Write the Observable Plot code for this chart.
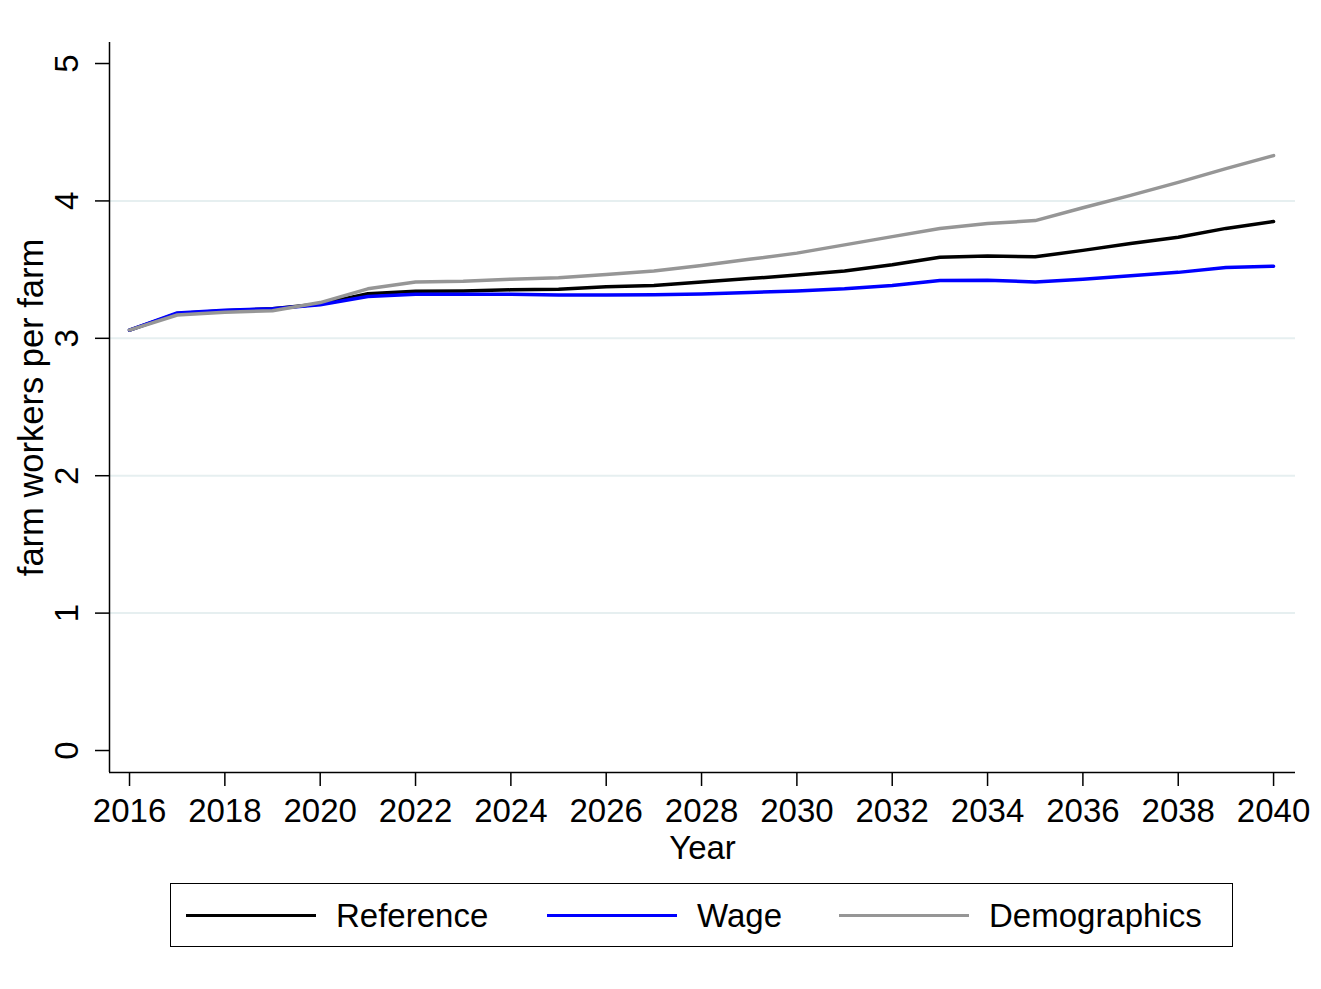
<!DOCTYPE html>
<html>
<head>
<meta charset="utf-8">
<script src="https://cdn.jsdelivr.net/npm/d3@7"></script>
<script src="https://cdn.jsdelivr.net/npm/@observablehq/plot@0.6"></script>
<style>
  body { margin: 0; background: #fff; font-family: "Liberation Sans", Arial, sans-serif; }
  #chart svg { display: block; }
  #legend {
    position: relative; box-sizing: border-box;
    margin-left: 170px; margin-top: 8px; width: 1063px; height: 64px;
    border: 1.5px solid #000; background: #fff;
  }
  .sw { position: absolute; top: 30px; width: 130px; height: 3px; }
  .lb { position: absolute; top: 14px; font-size: 33px; line-height: 36px; color: #000; }
</style>
</head>
<body>
<div id="chart"></div>
<div id="legend"></div>
<script>
const years = [2016,2017,2018,2019,2020,2021,2022,2023,2024,2025,2026,2027,2028,2029,2030,2031,2032,2033,2034,2035,2036,2037,2038,2039,2040];
const referenceVals = [3.06,3.18,3.20,3.215,3.25,3.325,3.343,3.345,3.353,3.358,3.375,3.385,3.41,3.435,3.46,3.49,3.535,3.59,3.60,3.593,3.64,3.69,3.735,3.80,3.85];
const wageVals = [3.06,3.185,3.205,3.215,3.245,3.305,3.32,3.32,3.32,3.315,3.315,3.317,3.322,3.333,3.345,3.36,3.385,3.42,3.423,3.41,3.43,3.455,3.48,3.515,3.525];
const demoVals = [3.06,3.17,3.19,3.20,3.26,3.36,3.41,3.415,3.43,3.44,3.465,3.49,3.53,3.575,3.62,3.68,3.74,3.80,3.835,3.857,3.95,4.04,4.135,4.235,4.33];
const seriesNames = ["Reference","Wage","Demographics"];
const seriesColors = ["#000000","#0000ff","#969696"];
const xTicks = [2016,2018,2020,2022,2024,2026,2028,2030,2032,2034,2036,2038,2040];
const yTicks = [0,1,2,3,4,5];
const gridTicks = [1,2,3,4];
const xDomain = [2015.58, 2040.46];
const yDomain = [-0.16, 5.153];
const xLabel = "Year";
const yLabel = "farm workers per farm";

const valueArrays = [referenceVals, wageVals, demoVals];
const rows = [];
seriesNames.forEach((s, i) => years.forEach((yr, j) => rows.push({year: yr, value: valueArrays[i][j], series: s})));

const font = "'Liberation Sans', Arial, sans-serif";
const plot = Plot.plot({
  width: 1321,
  height: 875,
  marginLeft: 109,
  marginRight: 26,
  marginTop: 42,
  marginBottom: 103,
  style: {fontFamily: font, background: "#fff", color: "#000"},
  x: {domain: xDomain},
  y: {domain: yDomain},
  color: {domain: seriesNames, range: seriesColors},
  marks: [
    Plot.gridY({ticks: gridTicks, stroke: "#e6eff0", strokeOpacity: 1, strokeWidth: 2}),
    Plot.ruleX([xDomain[0]], {stroke: "#000", strokeWidth: 1.5}),
    Plot.ruleY([yDomain[0]], {stroke: "#000", strokeWidth: 1.5}),
    Plot.axisY({ticks: yTicks, tickSize: 14, tickFormat: () => "", label: null, stroke: "#000", strokeWidth: 1.5}),
    Plot.text(yTicks, {y: d => d, text: d => String(d), frameAnchor: "left", textAnchor: "middle", lineAnchor: "middle", dx: -42, rotate: -90, fontSize: 33, fill: "#000"}),
    Plot.axisX({ticks: xTicks, tickSize: 14, tickPadding: 12, tickFormat: "d", fontSize: 33, label: null, stroke: "#000", strokeWidth: 1.5}),
    Plot.text([xLabel], {frameAnchor: "bottom", textAnchor: "middle", lineAnchor: "middle", dy: 76, fontSize: 33, fill: "#000"}),
    Plot.text([yLabel], {frameAnchor: "left", textAnchor: "middle", lineAnchor: "middle", dx: -78, rotate: -90, fontSize: 34.5, fill: "#000"}),
    Plot.line(rows, {x: "year", y: "value", z: "series", stroke: "series", strokeWidth: 3.5, strokeLinejoin: "round"})
  ]
});
document.getElementById("chart").appendChild(plot);

const legend = document.getElementById("legend");
const swLeft = [15, 376, 668];
const lbLeft = [165, 526, 818];
seriesNames.forEach((s, i) => {
  const sw = document.createElement("div");
  sw.className = "sw"; sw.style.left = swLeft[i] + "px"; sw.style.background = seriesColors[i];
  legend.appendChild(sw);
  const lb = document.createElement("div");
  lb.className = "lb"; lb.style.left = lbLeft[i] + "px"; lb.textContent = s;
  legend.appendChild(lb);
});
</script>
</body>
</html>
